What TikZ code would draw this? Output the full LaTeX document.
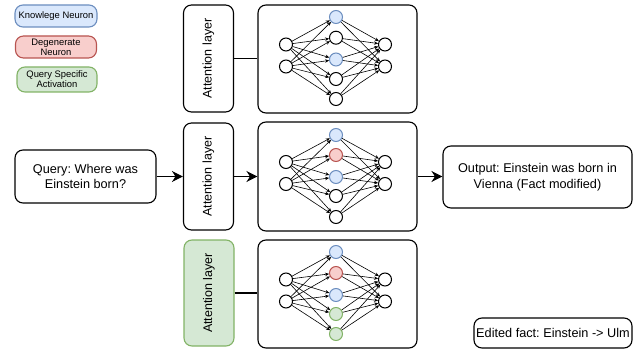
\documentclass[tikz,border=0pt]{standalone}
\usepackage{fontspec}
\setmainfont{Liberation Sans}
\usepackage{graphicx}
\usetikzlibrary{arrows.meta}
\frenchspacing
\definecolor{bfill}{HTML}{DAE8FC}\definecolor{bdraw}{HTML}{6C8EBF}
\definecolor{rfill}{HTML}{F8CECC}\definecolor{rdraw}{HTML}{B85450}
\definecolor{gfill}{HTML}{D5E8D4}\definecolor{gdraw}{HTML}{82B366}
\tikzset{
  box/.style={draw, rounded corners=8pt, line width=1.1pt, align=center, inner sep=0pt},
  mainfont/.style={font=\fontsize{12.7}{15.5}\selectfont},
  legfont/.style={font=\fontsize{9.4}{10}\selectfont},
  attfont/.style={font=\fontsize{12.5}{14}\selectfont},
  neuron/.style={circle, draw, line width=1pt, minimum size=13pt, inner sep=0pt, fill=white},
  nb/.style={fill=bfill, draw=bdraw},
  nr/.style={fill=rfill, draw=rdraw},
  ng/.style={fill=gfill, draw=gdraw},
  nw/.style={},
  nnarrow/.style={-{Stealth[length=4pt,width=3.5pt]}, line width=0.6pt},
  bigarrow/.style={-{Stealth[length=11pt,width=11pt,inset=3.5pt]}, line width=1.1pt},
  conn/.style={line width=1.1pt}
}
\newcommand{\nnet}[4]{%
  \foreach \dy [count=\i] in {-14.5,7.5} {
    \node[neuron] (#1i\i) at (#2-51.5,#3+\dy) {};
    \node[neuron] (#1o\i) at (#2+47.5,#3+\dy) {};
  }
  \foreach \dy/\st [count=\j] in #4 {
    \node[neuron,\st] (#1h\j) at (#2-1.5,#3+\dy) {};
  }
  \foreach \i in {1,2} {\foreach \j in {1,...,5} {
    \draw[nnarrow] (#1i\i) -- (#1h\j);
    \draw[nnarrow] (#1h\j) -- (#1o\i);
  }}
}
\begin{document}
\begin{tikzpicture}[x=1pt,y=-1pt]
\useasboundingbox (0,0) rectangle (638,353);
% legend
\node[box, nb, legfont, minimum width=82pt, minimum height=22pt] (leg1) at (56,16) {Knowlege Neuron};
\node[box, nr, legfont, minimum width=81pt, minimum height=22pt] (leg2) at (56,47) {Degenerate\\Neuron};
\node[box, ng, legfont, minimum width=80pt, minimum height=25pt] (leg3) at (57,79.5) {Query Specific\\Activation};
% attention layers
\node[box, attfont, minimum width=50pt, minimum height=107pt] (att1) at (208.5,58.5) {\rotatebox{90}{Attention layer}};
\node[box, attfont, minimum width=50pt, minimum height=107pt] (att2) at (208.5,176.5) {\rotatebox{90}{Attention layer}};
\node[box, ng, attfont, minimum width=50pt, minimum height=106pt] (att3) at (209,293) {\rotatebox{90}{Attention layer}};
% NN boxes
\node[box, minimum width=159pt, minimum height=108pt] (nn1) at (337.5,59) {};
\node[box, minimum width=159pt, minimum height=109pt] (nn2) at (337.5,176.5) {};
\node[box, minimum width=159pt, minimum height=108pt] (nn3) at (337.5,294) {};
\nnet{a}{337.5}{59}{{-42/nb,-21.3/nw,0.5/nb,20/nw,40/nw}}
\nnet{b}{337.5}{176.5}{{-41.5/nb,-21.5/nr,0.5/nb,19.5/nw,40.5/nw}}
\nnet{c}{337.5}{294}{{-42/nb,-21/nr,1/nb,20/ng,40/ng}}
% query / output / edited
\node[box, mainfont, minimum width=141pt, minimum height=53pt] (query) at (85.5,176.5) {Query: Where was\\Einstein born?};
\node[box, mainfont, minimum width=189pt, minimum height=62pt] (out) at (537.5,177) {Output: Einstein was born in\\Vienna (Fact modified)};
\node[box, mainfont, minimum width=158pt, minimum height=30pt] (edit) at (553,333) {Edited fact: Einstein -> Ulm};
% connectors
\draw[bigarrow] (query.east) -- (query.east -| att2.west);
\draw[bigarrow] (att2.east) -- (att2.east -| nn2.west);
\draw[bigarrow] (nn2.east) -- (nn2.east -| out.west);
\draw[conn] (att1.east) -- (att1.east -| nn1.west);
\draw[conn] (att3.east) -- (att3.east -| nn3.west);
\end{tikzpicture}
\end{document}
